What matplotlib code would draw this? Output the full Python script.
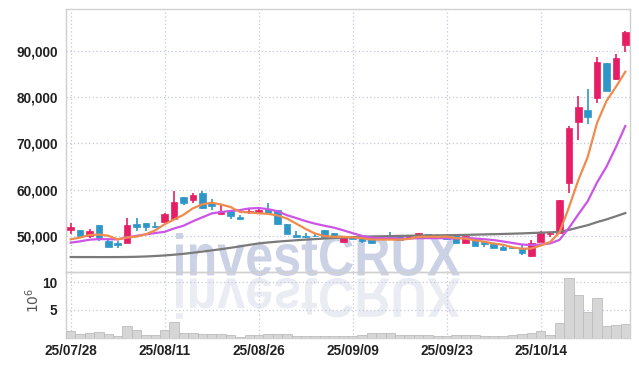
import matplotlib
matplotlib.use("Agg")
import matplotlib.pyplot as plt
import numpy as np
from matplotlib.textpath import TextPath
from matplotlib.patches import PathPatch
from matplotlib.font_manager import FontProperties
from matplotlib.transforms import Affine2D, IdentityTransform
from matplotlib.ticker import FixedLocator, FuncFormatter

# ---------------- data ----------------
dates = ["25/07/28", "25/07/29", "25/07/30", "25/07/31", "25/08/01", "25/08/04", "25/08/05", "25/08/06", "25/08/07", "25/08/08",
         "25/08/11", "25/08/12", "25/08/13", "25/08/14", "25/08/18", "25/08/19", "25/08/20", "25/08/21", "25/08/22", "25/08/25",
         "25/08/26", "25/08/27", "25/08/28", "25/08/29", "25/09/01", "25/09/02", "25/09/03", "25/09/04", "25/09/05", "25/09/08",
         "25/09/09", "25/09/10", "25/09/11", "25/09/12", "25/09/15", "25/09/16", "25/09/17", "25/09/18", "25/09/19", "25/09/22",
         "25/09/23", "25/09/24", "25/09/25", "25/09/26", "25/09/29", "25/09/30", "25/10/01", "25/10/02", "25/10/10", "25/10/13",
         "25/10/14", "25/10/15", "25/10/16", "25/10/17", "25/10/20", "25/10/21", "25/10/22", "25/10/23", "25/10/24", "25/10/27"]

opens = [51300, 51200, 50000, 52300, 48850, 48420, 48560, 52520, 52740, 52160,
         53020, 53740, 58500, 57780, 59360, 57200, 54820, 55400, 54100, 55180,
         55200, 55900, 55610, 52590, 50220, 50000, 50070, 51290, 50580, 48780,
         49800, 49710, 49500, 50000, 50000, 50220, 49640, 49860, 50430, 50220,
         50220, 50220, 48560, 49500, 48630, 48270, 47700, 47560, 47340, 45690,
         48780, 50360, 50720, 61500, 74660, 77180, 79840, 87390, 83870, 91340]
highs = [52880, 51250, 51580, 52300, 49640, 48920, 53960, 53960, 52740, 53100,
         55040, 59720, 58500, 59360, 59720, 57920, 56620, 55400, 54460, 56120,
         55800, 57190, 55610, 52590, 51150, 50580, 50580, 51290, 50720, 49860,
         50000, 50140, 49500, 50100, 50930, 50300, 50100, 50650, 50500, 50400,
         50400, 50220, 50000, 49500, 48630, 48270, 47800, 47700, 48060, 49140,
         51080, 50720, 57770, 73800, 80270, 81640, 88540, 87390, 89260, 94290]
lows = [50360, 50000, 49640, 48920, 47700, 47480, 48560, 51080, 51080, 51800,
        52880, 53600, 56620, 57200, 55900, 55620, 54680, 53740, 53380, 54680,
        54930, 54890, 52390, 50430, 49710, 49490, 49860, 49710, 49500, 48620,
        49300, 48420, 48300, 49500, 49280, 49000, 49500, 49700, 49600, 49600,
        49200, 48420, 48500, 47900, 47560, 47340, 46900, 47200, 45900, 45400,
        48780, 49710, 50720, 59350, 70710, 74160, 78620, 81350, 83650, 89760]
closes = [52016, 50100, 51150, 49280, 47700, 48060, 52300, 51940, 51940, 51870,
          54680, 57340, 57060, 58930, 56120, 56480, 55400, 54320, 53740, 55400,
          55610, 54890, 52520, 50430, 49860, 49860, 49930, 49860, 49640, 49710,
          49400, 48990, 48420, 49640, 49710, 49140, 50000, 50580, 49710, 49710,
          49300, 48420, 50000, 47920, 48200, 47340, 46980, 47340, 46400, 48420,
          50580, 50720, 57770, 73370, 77750, 75740, 87600, 81350, 88470, 94080]
# closes of the sessions just before the window (seed for the short moving averages)
prior_closes = [47300, 47600, 47900, 48100, 48300, 48200, 48400, 48800, 49000]
# 60-day moving average
ma60 = [45460, 45450, 45450, 45440, 45440, 45450, 45470, 45510, 45580, 45680,
        45800, 45960, 46150, 46380, 46630, 46890, 47150, 47450, 47750, 48080,
        48400, 48600, 48780, 48940, 49080, 49210, 49330, 49450, 49560, 49660,
        49750, 49820, 49880, 49930, 49980, 50020, 50060, 50090, 50120, 50140,
        50160, 50200, 50240, 50290, 50340, 50390, 50440, 50500, 50560, 50640,
        50720, 50800, 50880, 51300, 51830, 52330, 53000, 53580, 54250, 54950]
volumes = [1.16, 0.61, 0.79, 0.98, 0.61, 0.24, 2.0, 1.34, 0.37, 0.37,
           1.34, 2.8, 0.79, 0.79, 0.61, 0.61, 0.61, 0.37, 0.18, 0.37,
           0.37, 0.61, 0.61, 0.61, 0.24, 0.24, 0.24, 0.24, 0.2, 0.2,
           0.2, 0.49, 0.73, 0.73, 0.73, 0.49, 0.37, 0.37, 0.37, 0.24,
           0.2, 0.37, 0.37, 0.37, 0.2, 0.2, 0.2, 0.37, 0.61, 0.79,
           1.16, 0.37, 2.6, 10.8, 7.74, 4.57, 7.13, 2.0, 2.2, 2.38]  # x 10^6
price_ticks = [50000, 60000, 70000, 80000, 90000]
vol_ticks = [5, 10]
date_tick_idx = [0, 10, 20, 30, 40, 50]

# ---------------- style ----------------
UP = "#e61e66"
DOWN = "#2e96c8"
C_MA5 = "#ef8b4d"
C_MA10 = "#cc55e6"
C_MA60 = "#7a7a7a"
GRID = "#c3c8dc"
SPINE = "#d0d0d0"
W, H = 639, 366
LBL_FONT = ["Liberation Sans", "DejaVu Sans"]
LBL_SIZE = 9.8

fig = plt.figure(figsize=(W / 100, H / 100), dpi=100)
fig.patch.set_facecolor("white")

def fx(px):
    return px / W

def fy(py):
    return 1 - py / H

ax_left, ax_right = 66, 630
ax = fig.add_axes([fx(ax_left), fy(272), fx(ax_right - ax_left), (272 - 9.3) / H])
axv = fig.add_axes([fx(ax_left), fy(337.5), fx(ax_right - ax_left), (337.5 - 272) / H], sharex=ax)
for a in (ax, axv):
    a.set_facecolor("none")
    for s in a.spines.values():
        s.set_color(SPINE)
        s.set_linewidth(1.0)

n = len(closes)
x = np.arange(n)
o = np.array(opens, float)
h = np.array(highs, float)
l = np.array(lows, float)
c = np.array(closes, float)

# moving averages
allc = np.concatenate([np.array(prior_closes, float), c])
def sma(arr, k, offset):
    return np.array([arr[offset + i - k + 1: offset + i + 1].mean() for i in range(n)])
ma5 = sma(allc, 5, len(prior_closes))
ma10 = sma(allc, 10, len(prior_closes))

# candles
bw = 0.7
for i in range(n):
    col = UP if c[i] >= o[i] else DOWN
    ax.vlines(x[i], l[i], h[i], color=col, linewidth=1.2, zorder=3)
    bottom = min(o[i], c[i])
    height = max(abs(c[i] - o[i]), 120)
    ax.bar(x[i], height, bottom=bottom, width=bw, color=col, edgecolor=col, linewidth=0.5, zorder=4)

ax.plot(x, ma60, color=C_MA60, linewidth=1.6, zorder=5)
ax.plot(x, ma10, color=C_MA10, linewidth=1.6, zorder=5)
ax.plot(x, ma5, color=C_MA5, linewidth=1.6, zorder=6)

ax.set_xlim(-0.5, n - 0.5)
ax.set_ylim(42225, 98940)
ax.yaxis.set_major_locator(FixedLocator(price_ticks))
ax.yaxis.set_major_formatter(FuncFormatter(lambda v, p: f"{int(v):,}"))
ax.grid(True, color=GRID, linestyle=(0, (1, 2)), linewidth=0.9)
ax.tick_params(axis="both", length=0, labelbottom=False)
for t in ax.get_yticklabels():
    t.set_fontfamily(LBL_FONT)
    t.set_fontweight("bold")
    t.set_fontsize(LBL_SIZE)
    t.set_color("#222222")
ax.tick_params(axis="y", pad=6)

# volume
axv.bar(x, volumes, width=1.0, color="#d6d6d6", edgecolor="#bdbdbd", linewidth=0.6, zorder=3)
axv.set_ylim(0, 11.9)
axv.yaxis.set_major_locator(FixedLocator(vol_ticks))
axv.xaxis.set_major_locator(FixedLocator(date_tick_idx))
axv.set_xticklabels([dates[i] for i in date_tick_idx])
axv.grid(True, color=GRID, linestyle=(0, (1, 2)), linewidth=0.9)
axv.tick_params(axis="both", length=0)
axv.tick_params(axis="y", pad=6)
axv.tick_params(axis="x", pad=5)
for t in axv.get_yticklabels() + axv.get_xticklabels():
    t.set_fontfamily(LBL_FONT)
    t.set_fontweight("bold")
    t.set_fontsize(LBL_SIZE)
    t.set_color("#222222")
fig.text(fx(33), fy(300), "10$^6$", rotation=90, ha="center", va="center",
         fontsize=10, color="#555555")

# watermark (text + reflection)
fp = FontProperties(family="Liberation Sans", weight="bold")
tp = TextPath((0, 0), "investCRUX", size=1, prop=fp)
bb = tp.get_extents()
x0, x1, ytop, ybase = 176, 460, 233, 276
sx = (x1 - x0) / bb.width
sy = (ybase - ytop) / bb.height
tr = Affine2D().translate(-bb.x0, -bb.y0).scale(sx, sy).translate(x0, H - ybase)
wm = PathPatch(tr.transform_path(tp), facecolor="#ccd2e6", edgecolor="none",
               transform=IdentityTransform(), zorder=-5)
fig.patches.append(wm)
tr2 = Affine2D().translate(-bb.x0, -bb.y0).scale(sx, -sy * 0.95).translate(x0, H - ybase - 2)
wm2 = PathPatch(tr2.transform_path(tp), facecolor="#eaecf4", edgecolor="none",
                transform=IdentityTransform(), zorder=-5)
fig.patches.append(wm2)

fig.savefig("out.png", dpi=100)
